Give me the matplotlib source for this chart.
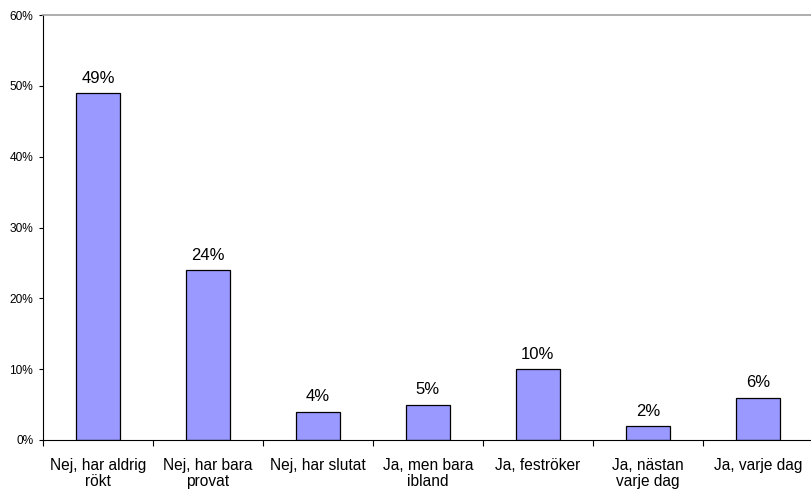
import numpy as np
import matplotlib
matplotlib.use('Agg')
import matplotlib.pyplot as plt

categories = ['Nej, har aldrig\nrökt', 'Nej, har bara\nprovat', 'Nej, har slutat',
              'Ja, men bara\nibland', 'Ja, feströker', 'Ja, nästan\nvarje dag', 'Ja, varje dag']
values = [49, 24, 4, 5, 10, 2, 6]
yticks = [0, 10, 20, 30, 40, 50, 60]

plt.rcParams['font.family'] = ['Liberation Sans', 'DejaVu Sans']

fig = plt.figure(figsize=(8.12, 4.93), dpi=100)
ax = fig.add_axes([43 / 812, 1 - 440 / 493, 1 - 43 / 812 + 0.001, (440 - 15) / 493])

x = np.arange(len(categories))
ax.bar(x, values, width=0.4, color='#9999ff', edgecolor='black', linewidth=0.9)

# value labels above the bars
for xi, v in zip(x, values):
    ax.text(xi, v + 1.45, f'{v}%', ha='center', va='baseline', fontsize=12)

ax.set_xlim(-0.5, len(categories) - 0.5)
ax.set_ylim(0, 60)
ax.set_yticks(yticks)
ax.set_yticklabels([f'{t}%' for t in yticks], fontsize=8.6)
ax.set_xticks(x)
ax.set_xticklabels(categories, fontsize=11.2, linespacing=1.1)
ax.tick_params(axis='x', which='major', length=0, pad=13)
ax.set_xticks(np.arange(-0.5, len(categories), 1), minor=True)
ax.tick_params(axis='x', which='minor', length=4, width=0.8, direction='out')
ax.tick_params(axis='y', length=3, width=0.8, direction='out', pad=4)

ax.spines['right'].set_visible(False)
ax.spines['top'].set_color('#a0a0a0')
ax.spines['top'].set_linewidth(1.2)
ax.spines['left'].set_linewidth(0.8)
ax.spines['bottom'].set_linewidth(0.8)

fig.savefig('out.png', dpi=100)
